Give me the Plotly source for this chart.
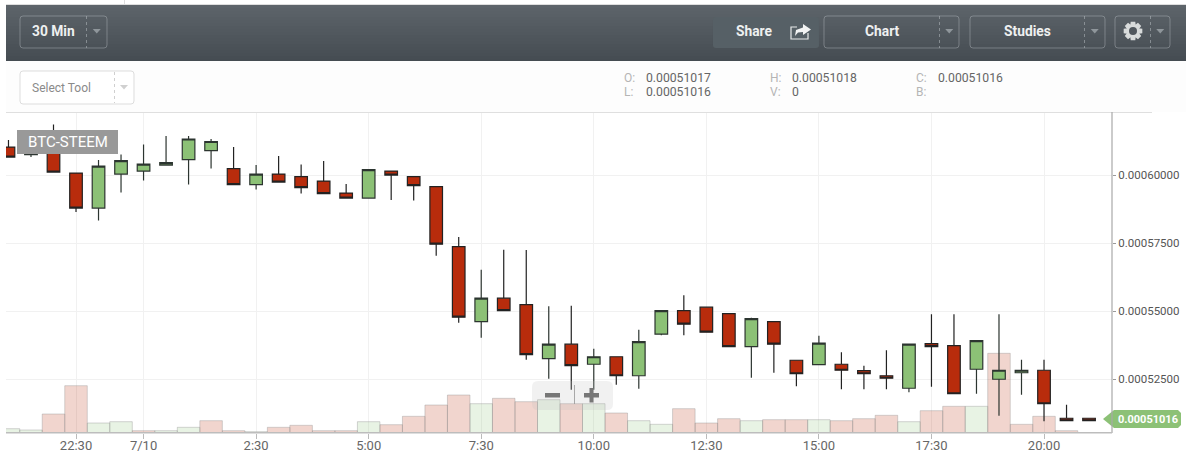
import math

import pandas as pd
import plotly.graph_objects as go

# 30 minute candles, prices in units of 1e-8 BTC
times = pd.date_range("2016-07-09 21:00", periods=49, freq="30min")
opens = [61042, 60766, 60858, 60085, 58796, 60048, 60158, 60379, 60582, 60913,
         60250, 59661, 60048, 59956, 59790, 59348, 59164, 60158, 59956, 59588,
         57378, 54617, 55482, 55243, 53255, 53788, 53052, 53328, 52629, 54157,
         55022, 55151, 54912, 53696, 54617, 53199, 53034, 53052, 52813, 52629,
         52168, 53807, 53733, 52868, 52500, 52739, 52831, 51064, 51064]
highs = [61300, 61100, 61870, 60085, 60563, 60766, 61134, 61447, 61447, 61337,
         61042, 60379, 60711, 60398, 60527, 59680, 60214, 60158, 59956, 59588,
         57728, 56532, 57268, 57250, 55188, 55206, 53623, 53328, 54322, 55040,
         55593, 55151, 54930, 54764, 54617, 53199, 54101, 53494, 52997, 53568,
         53788, 54893, 54893, 53917, 54893, 53218, 53218, 51561, 51064]
lows = [60674, 60674, 60122, 58649, 58336, 59367, 59809, 60379, 59661, 60250,
        59661, 59477, 59753, 59330, 59330, 59164, 59164, 59091, 59072, 57047,
        54580, 54028, 55022, 53218, 52518, 52113, 52113, 52297, 52150, 54120,
        54120, 54230, 53696, 52555, 52739, 52242, 53034, 52132, 52132, 52132,
        52021, 52224, 51966, 51966, 51156, 51929, 50953, 50972, 50972]
closes = [60674, 60900, 60122, 58796, 60342, 60545, 60416, 60471, 61337, 61245,
          59661, 60048, 59753, 59551, 59330, 59164, 60214, 60011, 59624, 57470,
          54783, 55482, 55022, 53402, 53788, 52997, 53328, 52629, 53880, 55022,
          54525, 54230, 53696, 54727, 53788, 52702, 53825, 52831, 52702, 52537,
          53788, 53696, 51966, 53917, 52831, 52831, 51598, 50972, 50972]

# relative volume, and whether each bar was tinted green
volumes = [4.3, 3, 19, 47.3, 10, 11.3, 2.3, 2.3, 5.7, 12.3,
           2.3, 1.3, 5.7, 7.7, 2.3, 2.3, 11.3, 8.3, 16.7, 28,
           38, 29.3, 34.7, 31.3, 33.3, 29.3, 29.3, 20, 12.3, 8.7,
           24.3, 10, 14.3, 12.3, 13.3, 13.3, 13.3, 12.3, 14.3, 17.7,
           11.3, 22.3, 26.7, 26.7, 79.7, 8.7, 16.7, 2.3, 0]
volume_up = [1, 1, 0, 0, 1, 1, 0, 1, 1, 0,
             0, 1, 0, 0, 0, 0, 1, 0, 0, 0,
             0, 1, 0, 0, 1, 0, 1, 0, 1, 1,
             0, 0, 0, 1, 0, 0, 1, 0, 0, 0,
             1, 0, 0, 1, 0, 0, 0, 0, 0]

x_ticks = pd.to_datetime(["2016-07-09 22:30", "2016-07-10 00:00", "2016-07-10 02:30",
                          "2016-07-10 05:00", "2016-07-10 07:30", "2016-07-10 10:00",
                          "2016-07-10 12:30", "2016-07-10 15:00", "2016-07-10 17:30",
                          "2016-07-10 20:00"])
x_labels = ["22:30", "7/10", "2:30", "5:00", "7:30", "10:00", "12:30", "15:00", "17:30", "20:00"]
y_ticks = [52500, 55000, 57500, 60000]
y_labels = ["0.00052500", "0.00055000", "0.00057500", "0.00060000"]

RED = "#b82c0c"
GREEN = "#8cc176"
FONT = "Roboto, Arial, sans-serif"
W, H = 1186, 456
L, R, T, B = 6, 1112, 112, 433


def px(x):
    return (x - L) / (R - L)


def py(y):
    return (B - y) / (B - T)


shapes = []
texts = []


def rect(x0, y0, x1, y1, fill, above=True):
    shapes.append(dict(type="rect", xref="paper", yref="paper", x0=px(x0), x1=px(x1), y0=py(y0), y1=py(y1),
                       fillcolor=fill, line=dict(color="rgba(0,0,0,0)", width=0),
                       layer="above" if above else "below"))


def vline(x, y0, y1, color, width=1, dash=None):
    shapes.append(dict(type="line", xref="paper", yref="paper", x0=px(x), x1=px(x), y0=py(y0), y1=py(y1),
                       line=dict(color=color, width=width, dash=dash), layer="above"))


def hline(x0, x1, y, color, width=1):
    shapes.append(dict(type="line", xref="paper", yref="paper", x0=px(x0), x1=px(x1), y0=py(y), y1=py(y),
                       line=dict(color=color, width=width), layer="above"))


def poly(points, fill=None, line=None, width=1, close=True):
    path = "M " + " L ".join(f"{px(a):.5f},{py(b):.5f}" for a, b in points) + (" Z" if close else "")
    shapes.append(dict(type="path", xref="paper", yref="paper", path=path, fillcolor=fill or "rgba(0,0,0,0)",
                       line=dict(color=line or "rgba(0,0,0,0)", width=width if line else 0), layer="above"))


def rounded(x0, y0, x1, y1, r, fill=None, line=None, width=1):
    path = (f"M {px(x0 + r):.5f},{py(y0):.5f} L {px(x1 - r):.5f},{py(y0):.5f} "
            f"Q {px(x1):.5f},{py(y0):.5f} {px(x1):.5f},{py(y0 + r):.5f} L {px(x1):.5f},{py(y1 - r):.5f} "
            f"Q {px(x1):.5f},{py(y1):.5f} {px(x1 - r):.5f},{py(y1):.5f} L {px(x0 + r):.5f},{py(y1):.5f} "
            f"Q {px(x0):.5f},{py(y1):.5f} {px(x0):.5f},{py(y1 - r):.5f} L {px(x0):.5f},{py(y0 + r):.5f} "
            f"Q {px(x0):.5f},{py(y0):.5f} {px(x0 + r):.5f},{py(y0):.5f} Z")
    shapes.append(dict(type="path", xref="paper", yref="paper", path=path, fillcolor=fill or "rgba(0,0,0,0)",
                       line=dict(color=line or "rgba(0,0,0,0)", width=width if line else 0), layer="above"))


def label(x, y, text, size=12, color="#666", anchor="left", bold=False):
    texts.append(dict(xref="paper", yref="paper", x=px(x), y=py(y), text=f"<b>{text}</b>" if bold else text,
                      showarrow=False, xanchor=anchor, yanchor="middle",
                      font=dict(family=FONT, size=size, color=color)))


# top strip and toolbar gradient, painted from the top down so no seams show
hline(6, W, 4.5, "#dedede")
vline(124.5, 0, 4, "#dedede")
rect(6, 61, W, 112, "#fdfdfd")
for row in range(5, 61, 3):
    t = (row - 5) / 55
    c = (int(93 - 24 * t), int(100 - 24 * t), int(106 - 24 * t))
    rect(6, row, W, 61, f"rgb{c}")
hline(6, 1152, 112.5, "#dfdfdf")

# toolbar buttons
BORDER = "rgba(190,195,200,0.4)"
rounded(713, 17, 819, 48, 3, fill="#566066")
for x0, x1, div in [(20, 107, 86.5), (824, 959, 939.5), (970, 1105, 1084.5), (1115, 1170, 1150.5)]:
    rounded(x0, 16, x1, 48, 3, line=BORDER)
    vline(div, 16, 48, "rgba(190,195,200,0.5)", dash="dot")
    tx = (div + x1) / 2
    poly([(tx - 4, 29), (tx + 4, 29), (tx, 33.5)], fill="#8f969b")
label(53, 31, "30 Min", 13.8, "#eef0f0", "center", True)
label(754, 31, "Share", 13.8, "#eef0f0", "center", True)
label(882, 31, "Chart", 13.8, "#eef0f0", "center", True)
label(1027, 31, "Studies", 13.8, "#eef0f0", "center", True)

# gear icon
gear = []
for k in range(8):
    a = k * math.pi / 4
    for da, r in [(-0.42, 6.6), (-0.24, 9.6), (0.24, 9.6), (0.42, 6.6)]:
        gear.append((1133 + r * math.cos(a + da), 31 + r * math.sin(a + da)))
poly(gear, fill="#d8dbdb")
shapes.append(dict(type="circle", xref="paper", yref="paper", x0=px(1129), x1=px(1137), y0=py(27), y1=py(35),
                   fillcolor="#50575d", line=dict(width=0), layer="above"))

# share icon
poly([(797, 27), (791, 27), (791, 39), (808, 39), (808, 33)], line="#e8eaea", width=1.2, close=False)
poly([(803, 24), (811, 29.5), (803, 35), (803, 32), (798, 32.5), (795, 36), (796, 30), (803, 27.5)], fill="#f2f3f3")

# tool selector and OHLC read-out
rounded(20, 71, 134, 104, 3, fill="#ffffff", line="#dddddd")
vline(114.5, 72, 103, "#cfcfcf", dash="dot")
poly([(120, 85), (128, 85), (124, 89.5)], fill="#d0d0d0")
label(30, 88, "Select Tool", 12, "#8a8a8a")
for x, v1, v2, l1, l2 in [(622, "0.00051017", "0.00051016", "O:", "L:"),
                          (768, "0.00051018", "0", "H:", "V:"),
                          (914, "0.00051016", "", "C:", "B:")]:
    label(x, 77.5, l1, 12, "#b5b5b5")
    label(x, 91.5, l2, 12, "#b5b5b5")
    label(x + 21.5, 77.5, v1, 12.2, "#666")
    if v2:
        label(x + 21.5, 91.5, v2, 12.2, "#666")

# chart overlays
rect(17, 130, 118, 154, "#999999")
label(67.5, 142, "BTC-STEEM", 15, "#ffffff", "center")
rounded(532, 381, 613, 410, 6, fill="rgba(190,190,190,0.22)")
vline(574.5, 385, 404, "rgba(150,150,150,0.8)")
rect(545, 393, 560, 397.5, "#777777")
rect(584, 393, 599, 397.5, "#777777")
rect(589.5, 388, 593.5, 402.5, "#777777")
poly([(1103, 419), (1114, 410), (1178, 410), (1181, 413), (1181, 425), (1178, 428), (1114, 428)], fill=GREEN)
label(1148, 419.5, "0.00051016", 11, "#ffffff", "center", True)
vline(1112, 112, 433, "#a8a8a8", 1.2)
hline(6, 1112, 432.7, "#bdbdbd", 1.5)

bars = go.Bar(
    x=times, y=volumes, width=1800000, yaxis="y", xaxis="x",
    marker=dict(color=["rgba(140,193,118,0.2)" if u else "rgba(184,44,12,0.2)" for u in volume_up],
                line=dict(color="rgba(150,150,150,0.4)", width=1)),
    hoverinfo="skip",
)
candles = go.Candlestick(
    x=times, open=opens, high=highs, low=lows, close=closes, yaxis="y2", xaxis="x", whiskerwidth=0,
    increasing=dict(fillcolor=GREEN, line=dict(color="#2c3530", width=1.2)),
    decreasing=dict(fillcolor=RED, line=dict(color="#222222", width=1.2)),
)

fig = go.Figure([bars, candles])
fig.update_layout(
    width=W, height=H, autosize=False, showlegend=False, boxgap=0.2,
    paper_bgcolor="#ffffff", plot_bgcolor="#ffffff",
    margin=dict(l=L, r=W - R, t=T, b=H - B, pad=0, autoexpand=False),
    font=dict(family=FONT),
    shapes=shapes, annotations=texts,
    xaxis=dict(range=[times[0] - pd.Timedelta(minutes=3.3), times[-1] + pd.Timedelta(minutes=30.6)],
               rangeslider=dict(visible=False), tickmode="array", tickvals=x_ticks, ticktext=x_labels,
               ticks="outside", ticklen=5, tickcolor="#bbbbbb", tickfont=dict(size=13, color="#666666"),
               ticklabelstandoff=-5,
               showgrid=True, gridcolor="#f1f1f1", gridwidth=1, zeroline=False, showline=False, automargin=False),
    yaxis=dict(range=[0, B - T], visible=False, showgrid=False, fixedrange=True, automargin=False),
    yaxis2=dict(range=[50522, 62331], overlaying="y", side="right", tickmode="array", tickvals=y_ticks,
                ticktext=y_labels, ticks="outside", ticklen=3, tickcolor="#999999",
                tickfont=dict(size=11.5, color="#555555"), showgrid=True, gridcolor="#f1f1f1", gridwidth=1,
                zeroline=False, showline=False, automargin=False),
)

fig.write_html("out.html", config=dict(displayModeBar=False),
               post_script="document.body.style.margin='0';document.body.style.overflow='hidden';")
